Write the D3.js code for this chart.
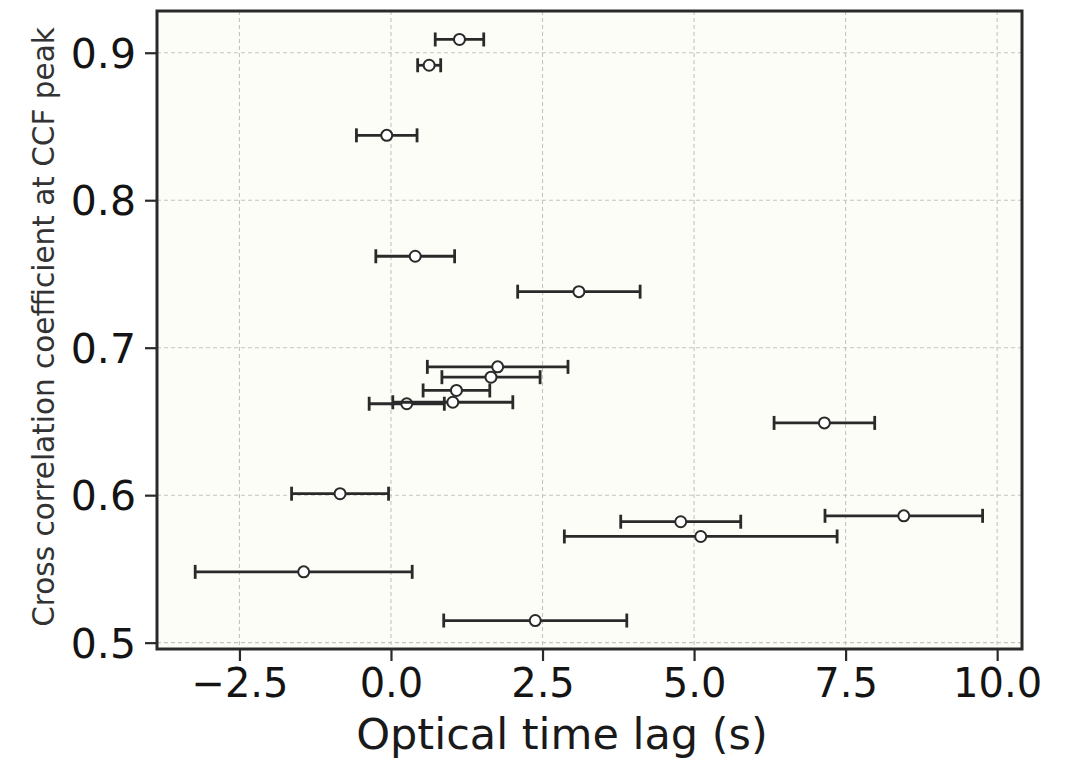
<!DOCTYPE html>
<html>
<head>
<meta charset="utf-8">
<script src="https://cdn.jsdelivr.net/npm/d3@7"></script>
<style>
  body { margin: 0; background: #ffffff; }
  svg { display: block; font-family: "DejaVu Sans", sans-serif; }
  .grid line { stroke: #c2c5c2; stroke-width: 1.1; stroke-dasharray: 4,3; }
</style>
</head>
<body>
<svg id="chart" width="1066" height="762"></svg>
<script>
// optical time lag (s), its error, and cross correlation coefficient at CCF peak
const lags   = [1.13, 0.63, -0.07, 0.40, 3.10, 1.76, 1.65, 1.08, 0.26, 1.02, 7.15, 8.46, 4.78, 5.11, -0.84, -1.44, 2.38];
const lagErr = [0.40, 0.19, 0.50, 0.65, 1.01, 1.16, 0.81, 0.55, 0.62, 0.99, 0.83, 1.30, 0.99, 2.25, 0.80, 1.79, 1.51];
const ccf    = [0.909, 0.8915, 0.844, 0.762, 0.738, 0.687, 0.680, 0.671, 0.662, 0.663, 0.649, 0.586, 0.582, 0.572, 0.601, 0.548, 0.515];

const xTicks = [-2.5, 0.0, 2.5, 5.0, 7.5, 10.0];
const yTicks = [0.5, 0.6, 0.7, 0.8, 0.9];

const svg = d3.select("#chart"),
  margin = { top: 11, right: 44, bottom: 113, left: 157 },
  width = +svg.attr("width") - margin.left - margin.right,
  height = +svg.attr("height") - margin.top - margin.bottom;

const g = svg.append("g")
  .attr("transform", `translate(${margin.left},${margin.top})`);

const x = d3.scaleLinear().domain([-3.86, 10.41]).range([0, width]);
const y = d3.scaleLinear().domain([0.4957, 0.9283]).range([height, 0]);

const dark = "#2a2a2a";

// plot background
g.append("rect")
  .attr("width", width)
  .attr("height", height)
  .attr("fill", "#fdfdf8");

// grid
g.append("g").attr("class", "grid")
  .selectAll("line.v")
  .data(xTicks)
  .join("line")
  .attr("x1", d => x(d)).attr("x2", d => x(d))
  .attr("y1", 0).attr("y2", height);

g.append("g").attr("class", "grid")
  .selectAll("line.h")
  .data(yTicks)
  .join("line")
  .attr("x1", 0).attr("x2", width)
  .attr("y1", d => y(d)).attr("y2", d => y(d));

// axes
const fmt = d3.format(".1f");
const xAxis = g.append("g")
  .attr("transform", `translate(0,${height})`)
  .call(d3.axisBottom(x).tickValues(xTicks).tickSize(12).tickPadding(8)
    .tickFormat(d => fmt(d).replace("-", "\u2212")));
const yAxis = g.append("g")
  .call(d3.axisLeft(y).tickValues(yTicks).tickSize(12).tickPadding(9).tickFormat(fmt));

[xAxis, yAxis].forEach(a => {
  a.select(".domain").remove();
  a.selectAll(".tick line").attr("stroke", dark).attr("stroke-width", 2.2);
  a.selectAll(".tick text")
    .attr("fill", "#141414")
    .style("font-size", "40px")
    .style("font-family", "DejaVu Sans, sans-serif");
});
yAxis.selectAll(".tick text").style("font-size", "41px").attr("dy", "0.36em");

// error bars and points
const idx = d3.range(lags.length);
const pts = g.append("g")
  .selectAll("g")
  .data(idx)
  .join("g");

pts.append("line")
  .attr("x1", i => x(lags[i] - lagErr[i]))
  .attr("x2", i => x(lags[i] + lagErr[i]))
  .attr("y1", i => y(ccf[i])).attr("y2", i => y(ccf[i]))
  .attr("stroke", dark).attr("stroke-width", 2.8);

[-1, 1].forEach(s => {
  pts.append("line")
    .attr("x1", i => x(lags[i] + s * lagErr[i]))
    .attr("x2", i => x(lags[i] + s * lagErr[i]))
    .attr("y1", i => y(ccf[i]) - 7).attr("y2", i => y(ccf[i]) + 7)
    .attr("stroke", dark).attr("stroke-width", 2.8);
});

pts.append("circle")
  .attr("cx", i => x(lags[i]))
  .attr("cy", i => y(ccf[i]))
  .attr("r", 5.5)
  .attr("fill", "#ffffff")
  .attr("stroke", dark)
  .attr("stroke-width", 2);

// frame
g.append("rect")
  .attr("width", width)
  .attr("height", height)
  .attr("fill", "none")
  .attr("stroke", dark)
  .attr("stroke-width", 3);

// axis labels
svg.append("text")
  .attr("x", 562)
  .attr("y", 749)
  .attr("text-anchor", "middle")
  .attr("fill", "#1a1a1a")
  .style("font-size", "43px")
  .text("Optical time lag (s)");

svg.append("text")
  .attr("transform", "translate(54,327) rotate(-90)")
  .attr("text-anchor", "middle")
  .attr("fill", "#333333")
  .style("font-size", "29.5px")
  .text("Cross correlation coefficient at CCF peak");
</script>
</body>
</html>
